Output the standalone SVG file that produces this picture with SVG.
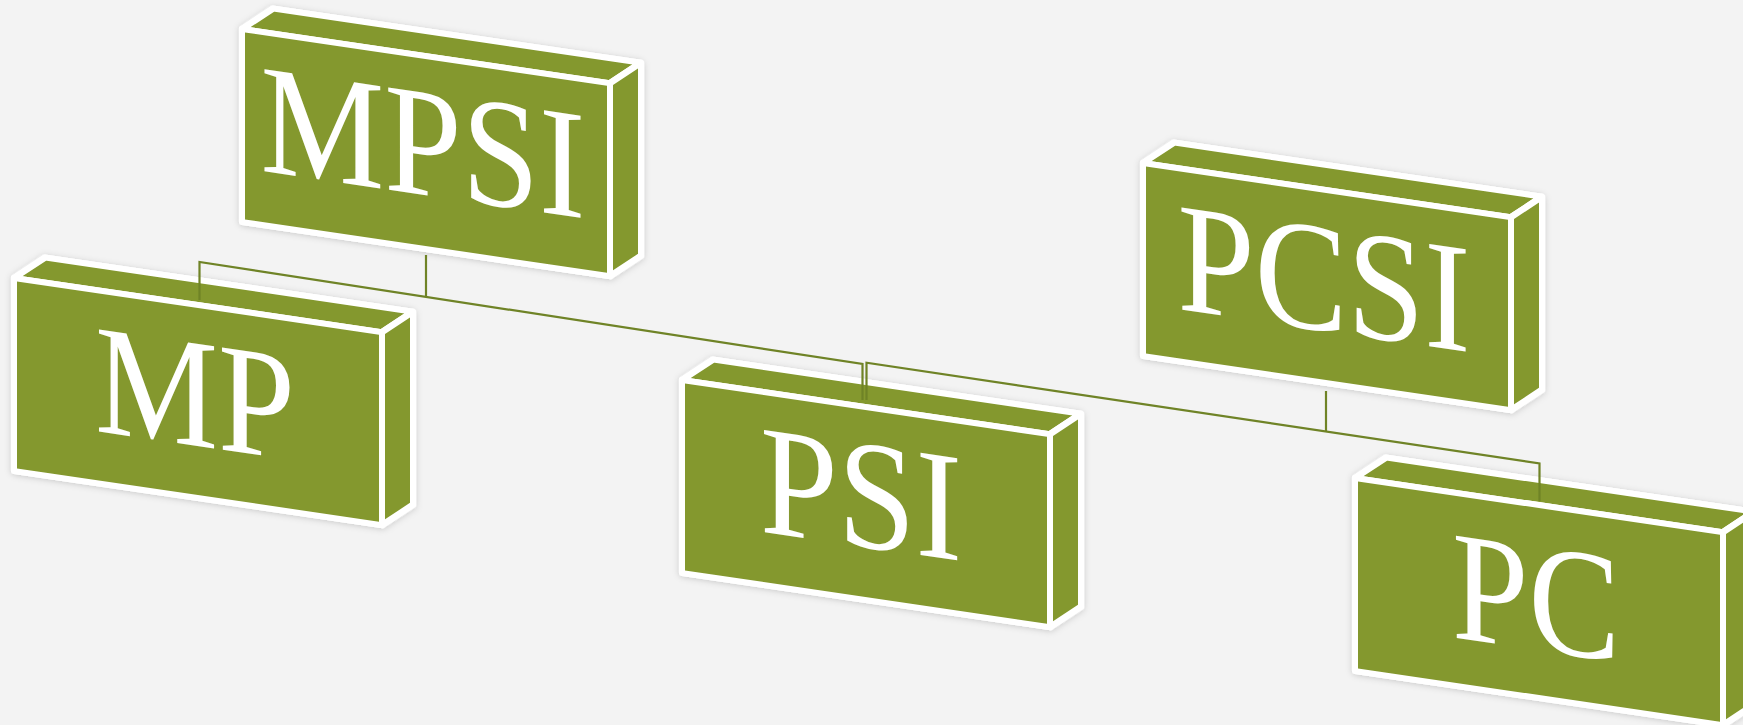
<svg xmlns="http://www.w3.org/2000/svg" xmlns:xlink="http://www.w3.org/1999/xlink" width="1743" height="725" viewBox="0 0 1743 725">
  <style>
    .face { fill: #84982e; stroke: #ffffff; stroke-width: 6; stroke-linejoin: round; }
    .outline { fill: #ffffff; stroke: #ffffff; stroke-width: 6; stroke-linejoin: round; }
    .label { font-family: "Liberation Serif", "DejaVu Serif", serif; font-size: 156px; fill: #ffffff; text-anchor: middle; }
    .conn { fill: none; stroke: #6f8326; stroke-width: 2.2; stroke-linejoin: miter; }
  </style>
  <defs>
    <filter id="halo" x="-10%" y="-20%" width="120%" height="140%">
      <feDropShadow dx="0" dy="1" stdDeviation="3" flood-color="#000000" flood-opacity="0.18"/>
    </filter>
    <g id="box">
      <polygon class="outline" filter="url(#halo)" points="0,0 31,-25 399,-25 399,168 368,193 0,193"/>
      <polygon class="face" points="0,0 31,-25 399,-25 368,0"/>
      <polygon class="face" points="368,0 399,-25 399,168 368,193"/>
      <rect class="face" x="0" y="0" width="368" height="193"/>
    </g>
  </defs>
  <rect x="0" y="0" width="1743" height="725" fill="#f3f3f3"/>

  <g id="node-mpsi" transform="translate(242,29) skewY(8.37)">
    <use href="#box" xlink:href="#box"/>
    <text class="label" x="181" y="139" textLength="325" lengthAdjust="spacingAndGlyphs">MPSI</text>
  </g>
  <g id="node-pcsi" transform="translate(1143,163) skewY(8.37)">
    <use href="#box" xlink:href="#box"/>
    <text class="label" x="181" y="141" textLength="293" lengthAdjust="spacingAndGlyphs">PCSI</text>
  </g>
  <g id="node-mp" transform="translate(14,278) skewY(8.37)">
    <use href="#box" xlink:href="#box"/>
    <text class="label" x="181" y="141" textLength="200" lengthAdjust="spacingAndGlyphs">MP</text>
  </g>
  <g id="node-psi" transform="translate(682,380) skewY(8.37)">
    <use href="#box" xlink:href="#box"/>
    <text class="label" x="179" y="140" textLength="202" lengthAdjust="spacingAndGlyphs">PSI</text>
  </g>
  <g id="node-pc" transform="translate(1355,478) skewY(8.37)">
    <use href="#box" xlink:href="#box"/>
    <text class="label" x="181" y="145" textLength="168" lengthAdjust="spacingAndGlyphs">PC</text>
  </g>

  <g id="connectors">
    <path class="conn" d="M426,255 V297"/>
    <path class="conn" d="M199.5,300 V262 L862.5,364 V400"/>
    <path class="conn" d="M1326,391 V431.4"/>
    <path class="conn" d="M866.5,400 V362.7 L1539.5,463.5 V501"/>
  </g>
</svg>
